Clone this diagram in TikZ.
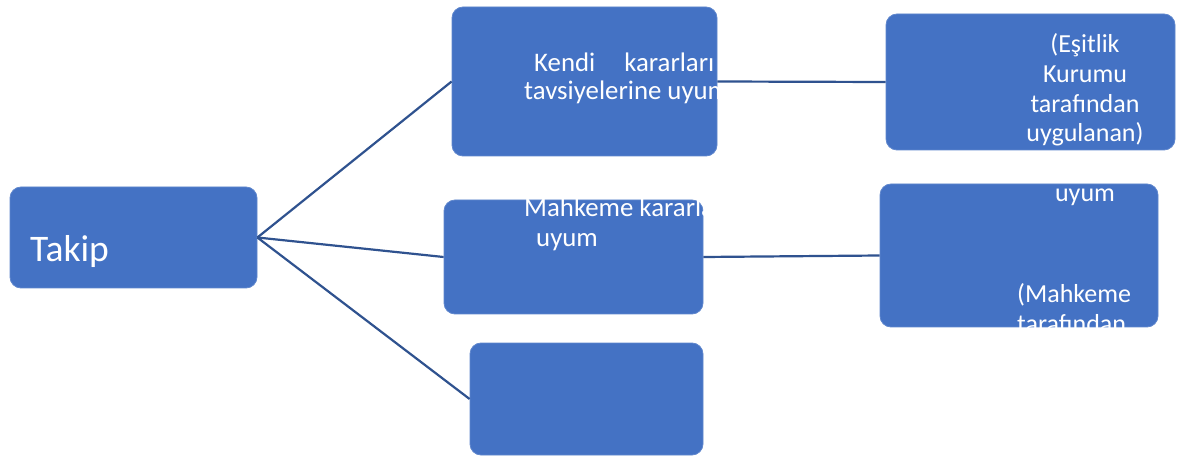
\documentclass[tikz,border=0pt]{standalone}
\usepackage{fontspec}
\setmainfont{Carlito}
\usepackage{tikz}
\definecolor{boxblue}{HTML}{4472C4}
\definecolor{linkblue}{HTML}{2F528F}
\tikzset{
  box/.style={fill=boxblue,draw=boxblue!85!white,line width=0.8pt,rounded corners=11pt,inner sep=0pt},
  link/.style={draw=linkblue,line width=2.2pt},
  txt/.style={text=white,inner sep=0pt,font=\fontsize{26}{30}\selectfont},
  bigtxt/.style={txt,font=\fontsize{26.8}{30}\selectfont},
}

\begin{document}
\begin{tikzpicture}[x=1pt,y=-1pt]
      \path[use as bounding box,fill=white] (0,0) rectangle (1179,457);

      \path
      (133.5,237.5) node[box,minimum width=247pt,minimum height=101pt](takip) {}
      (584.5,81.5) node[box,minimum width=265pt,minimum height=149pt](kendi) {}
      (1030.5,82) node[box,minimum width=289pt,minimum height=136pt](esitlik) {}
      (573.5,257) node[box,minimum width=259pt,minimum height=114pt](mahkeme) {}
      (1019,255.5) node[box,minimum width=278pt,minimum height=143pt](uyum) {}
      (586.5,399) node[box,minimum width=233pt,minimum height=112pt](bos) {}
      ;

      \draw[link] (takip.east) -- (kendi.west);
      \draw[link] (takip.east) -- (mahkeme.west);
      \draw[link] (takip.east) -- (bos.west);
      \draw[link] (kendi.east) -- (esitlik.west);
      \draw[link] (mahkeme.east) -- (uyum.west);

      \node[txt,anchor=base west,font=\fontsize{37.5}{40}\selectfont](takiptxt) at (30,262) {Takip};

      \begin{scope}
        \clip (kendi.south west) rectangle (kendi.north east);
        \path
        (534,72) node[bigtxt,anchor=base west](kendi1) {Kendi\hspace{29pt}kararları}
        (524,100) node[bigtxt,anchor=base west](kendi2) {tavsiyelerine uyum}
        ;
      \end{scope}

      \path
      (1085,53) node[txt,anchor=base](esit1) {(Eşitlik}
      (1085,83) node[txt,anchor=base](esit2) {Kurumu}
      (1085,113) node[txt,anchor=base](esit3) {tarafından}
      (1085,142) node[txt,anchor=base](esit4) {uygulanan)}
      ;

      \begin{scope}
        \clip ([yshift=20pt]mahkeme.north west) rectangle (mahkeme.south east);
        \path
        (524,217) node[bigtxt,anchor=base west](mahk1) {Mahkeme kararla}
        (536,247) node[bigtxt,anchor=base west](mahk2) {uyum}
        ;
      \end{scope}

      \begin{scope}
        \clip (uyum.north west) rectangle (uyum.south east);
        \path
        (1085,202) node[txt,anchor=base](uyum1) {uyum}
        (1017,302) node[txt,anchor=base west](uyum2) {(Mahkeme}
        (1017,332) node[txt,anchor=base west](uyum3) {tarafından}
        ;
      \end{scope}
    \end{tikzpicture}
\end{document}
